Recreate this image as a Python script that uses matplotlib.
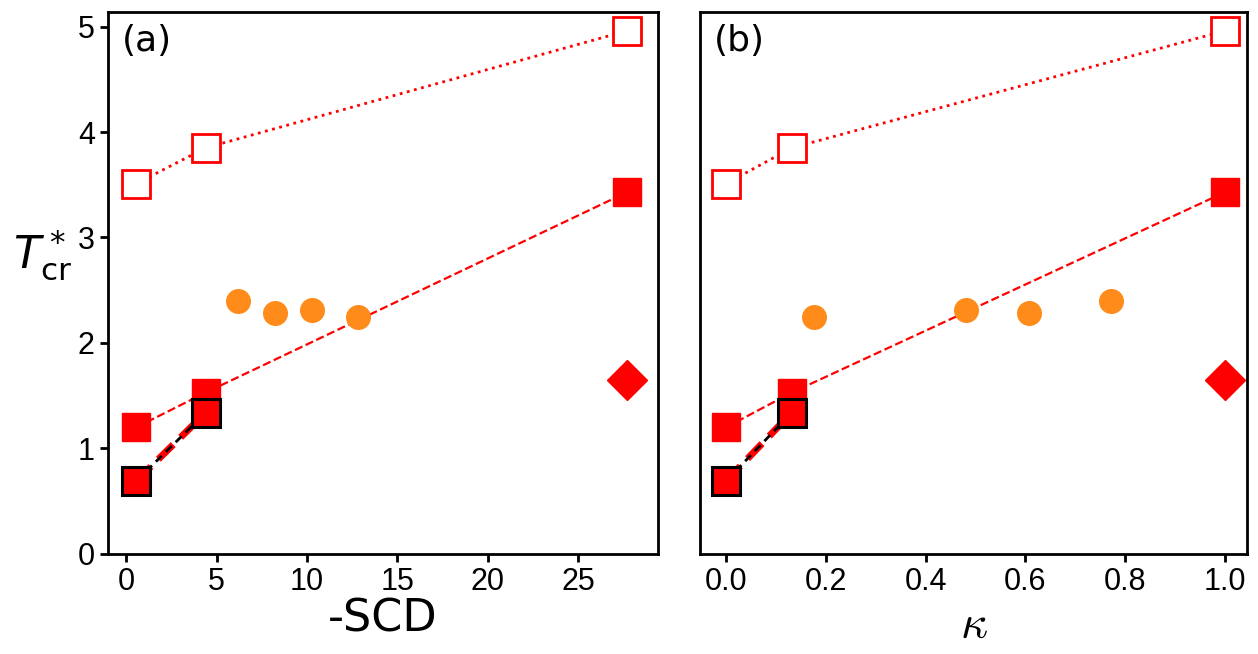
import matplotlib.pyplot as plt

# values
scd_sq = [0.55, 4.4, 27.7]
kap_sq = [0.0, 0.132, 1.0]
t_open = [3.51, 3.85, 4.96]
t_fill = [1.20, 1.53, 3.43]

scd_blk = [0.55, 4.4]
kap_blk = [0.0, 0.132]
t_blk = [0.69, 1.34]

scd_circ = [6.2, 8.25, 10.3, 12.8]
kap_circ = [0.772, 0.607, 0.481, 0.176]
t_circ = [2.40, 2.28, 2.31, 2.25]

scd_dia = [27.7]
kap_dia = [1.0]
t_dia = [1.65]

red = "#ff0000"
orange = "#ff8c1a"

fig = plt.figure(figsize=(12.58, 6.54), dpi=100)
ax1 = fig.add_axes([0.0859, 0.153, 0.4371, 0.829])
ax2 = fig.add_axes([0.5564, 0.153, 0.4349, 0.829])


def draw(ax, xs, xb, xc, xd):
    ax.plot(xs, t_open, ":", color=red, lw=2, marker="s", ms=20,
            mfc="white", mec=red, mew=2, zorder=3)
    ax.plot(xs, t_fill, "--", color=red, lw=1.6, marker="s", ms=20,
            mfc=red, mec=red, zorder=3)
    ax.plot(xb, t_blk, "--", color=red, lw=5, dashes=(3, 1.5), zorder=2)
    ax.plot(xb, t_blk, "--", color="black", lw=2, dashes=(3, 2), zorder=2.5)
    ax.plot(xb, t_blk, "s", ms=20, mfc=red, mec="black", mew=2.2, zorder=4)
    ax.plot(xc, t_circ, "o", ms=17, color=orange, zorder=3)
    ax.plot(xd, t_dia, "D", ms=20, color=red, zorder=3)
    ax.set_ylim(0, 5.14)
    ax.set_yticks([0, 1, 2, 3, 4, 5])
    for s in ax.spines.values():
        s.set_linewidth(2)
    ax.tick_params(width=2, length=6, labelsize=22)


draw(ax1, scd_sq, scd_blk, scd_circ, scd_dia)
draw(ax2, kap_sq, kap_blk, kap_circ, kap_dia)

ax1.set_xlim(-1.0, 29.4)
ax1.set_xticks([0, 5, 10, 15, 20, 25])
ax2.set_xlim(-0.052, 1.044)
ax2.set_xticks([0.0, 0.2, 0.4, 0.6, 0.8, 1.0])
ax2.set_yticklabels([])
ax2.tick_params(left=False)
for lab in ax1.get_xticklabels() + ax1.get_yticklabels() + ax2.get_xticklabels():
    lab.set_family("Liberation Sans")

ax1.set_xlabel("-SCD", fontsize=32, labelpad=0)
ax2.set_xlabel(r"$\kappa$", fontsize=34, math_fontfamily="cm", labelpad=4)
ax1.set_ylabel(r"$T^*_{\mathrm{cr}}$", fontsize=32, rotation=0)
ax1.yaxis.set_label_coords(-0.12, 0.5)

ax1.text(0.025, 0.978, "(a)", transform=ax1.transAxes, fontsize=26,
         ha="left", va="top")
ax2.text(0.025, 0.978, "(b)", transform=ax2.transAxes, fontsize=26,
         ha="left", va="top")

fig.savefig("out.png", dpi=100)
